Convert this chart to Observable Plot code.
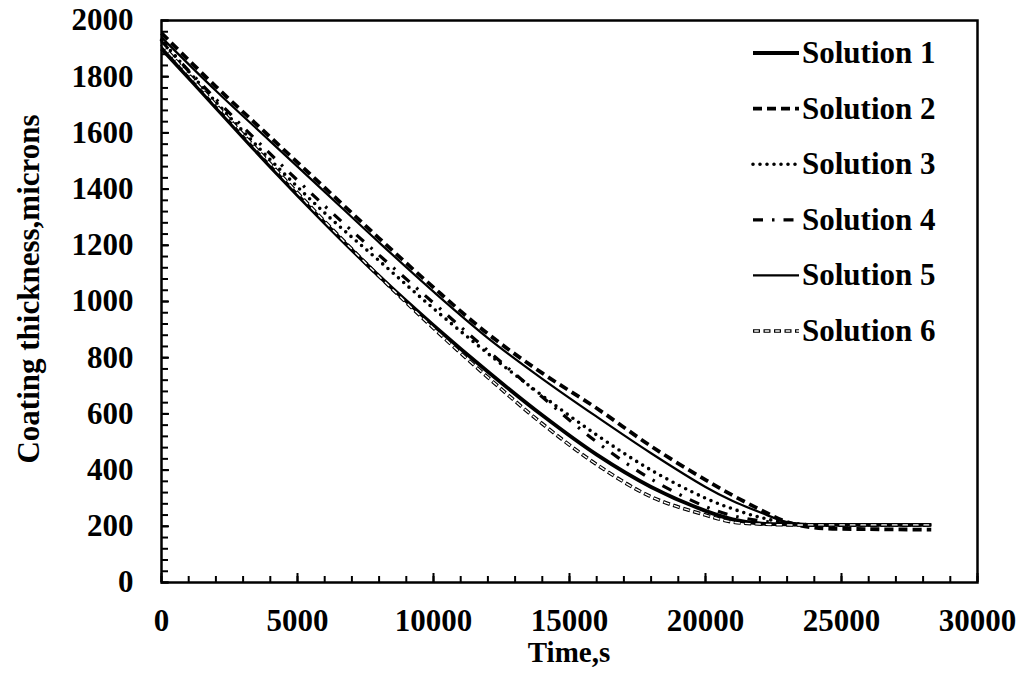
<!DOCTYPE html>
<html><head><meta charset="utf-8">
<script src="https://cdn.jsdelivr.net/npm/d3@7"></script>
<script src="https://cdn.jsdelivr.net/npm/@observablehq/plot@0.6"></script>
<style>body{margin:0;background:#fff;}</style>
</head><body><div id="chart"></div>
<script>
// Time (s)
const time = [0, 2000, 4000, 6000, 8000, 10000, 12000, 14000, 16000, 18000, 20000, 21000, 22000, 23000, 24000, 26000, 28300];
// Coating thickness (microns)
const sol1 = [1900, 1690, 1480, 1280, 1090, 915, 750, 595, 455, 340, 255, 225, 210, 207, 205, 205, 205];
const sol2 = [1955, 1765, 1585, 1405, 1225, 1050, 885, 745, 620, 485, 365, 310, 260, 215, 195, 190, 188];
const sol3 = [1930, 1710, 1505, 1315, 1145, 975, 815, 665, 525, 400, 300, 262, 232, 212, 205, 205, 205];
const sol4 = [1925, 1720, 1525, 1340, 1165, 995, 825, 660, 500, 368, 270, 238, 220, 210, 205, 205, 205];
const sol5 = [1940, 1750, 1570, 1390, 1210, 1035, 870, 725, 590, 460, 340, 290, 250, 215, 207, 205, 205];
const sol6 = [1915, 1700, 1490, 1285, 1090, 905, 730, 565, 420, 305, 240, 215, 208, 205, 205, 205, 205];
const seriesNames = ["Solution 1", "Solution 2", "Solution 3", "Solution 4", "Solution 5", "Solution 6"];
const seriesValues = [sol1, sol2, sol3, sol4, sol5, sol6];
const xTicks = [0, 5000, 10000, 15000, 20000, 25000, 30000];
const yTicks = [0, 200, 400, 600, 800, 1000, 1200, 1400, 1600, 1800, 2000];
const xMinor = d3.range(0, 30001, 1000);
const yMinor = d3.range(0, 2001, 40);
const xTitle = "Time,s";
const yTitle = "Coating thickness,microns";

const W = 1021, H = 675, mL = 161, mR = 44, mT = 20, mB = 93;
const plotW = W - mL - mR, plotH = H - mT - mB;
const FONT = "'Liberation Serif', 'Times New Roman', serif";

const lineStyles = [
  {strokeWidth: 3.8},
  {strokeWidth: 3.8, strokeDasharray: "9,5"},
  {strokeWidth: 3.6, strokeDasharray: "0,7", strokeLinecap: "round"},
  {strokeWidth: 3.2, strokeDasharray: "10,9,2.5,9"},
  {strokeWidth: 2.2},
  {strokeWidth: 3.6, strokeDasharray: "7,3.5", hollow: true}
];

const rows = (vals, name) => time.map((t, i) => ({t, v: vals[i], name}));

const lineMarks = [];
seriesValues.forEach((vals, k) => {
  const st = lineStyles[k];
  const data = rows(vals, seriesNames[k]);
  lineMarks.push(Plot.line(data, {x: "t", y: "v", stroke: "black", curve: "catmull-rom",
    strokeWidth: st.strokeWidth, strokeDasharray: st.strokeDasharray, strokeLinecap: st.strokeLinecap || "butt"}));
  if (st.hollow) {
    lineMarks.push(Plot.line(data, {x: "t", y: "v", stroke: "white", curve: "catmull-rom",
      strokeWidth: 1.4, strokeDasharray: "4.5,6", strokeDashoffset: -1.25}));
  }
});

const plot = Plot.plot({
  width: W, height: H,
  marginLeft: mL, marginRight: mR, marginTop: mT, marginBottom: mB,
  x: {domain: [0, 30000]},
  y: {domain: [0, 2000]},
  style: {fontFamily: FONT, fontWeight: "bold", fontSize: "31px", background: "white", color: "black", overflow: "visible"},
  marks: [
    ...lineMarks,
    Plot.ruleX(xMinor, {x: d => d, insetTop: plotH - 6, stroke: "black", strokeWidth: 2}),
    Plot.ruleX(xTicks, {x: d => d, insetTop: plotH - 9, stroke: "black", strokeWidth: 2}),
    Plot.ruleY(yMinor, {y: d => d, insetRight: plotW - 7, stroke: "black", strokeWidth: 2}),
    Plot.ruleY(yTicks, {y: d => d, insetRight: plotW - 8, stroke: "black", strokeWidth: 2}),
    Plot.frame({stroke: "black", strokeWidth: 2.5}),
    Plot.axisX(xTicks, {tickSize: 0, tickPadding: 26, tickFormat: d => String(d), label: null, fontSize: 31, fontWeight: "bold"}),
    Plot.axisY(yTicks, {tickSize: 0, tickPadding: 28, tickFormat: d => String(d), label: null, fontSize: 31, fontWeight: "bold"})
  ]
});

const svg = d3.select(plot);
// Axis titles
svg.append("text").attr("x", mL + plotW / 2).attr("y", 652).attr("dy", "0.35em")
  .attr("text-anchor", "middle").attr("font-size", 29).attr("font-weight", "bold")
  .attr("font-family", FONT).attr("fill", "black").text(xTitle);
svg.append("text").attr("transform", "translate(28,289) rotate(-90)").attr("dy", "0.35em")
  .attr("text-anchor", "middle").attr("font-size", 31).attr("font-weight", "bold")
  .attr("font-family", FONT).attr("fill", "black").text(yTitle);

// Legend
const lg = svg.append("g");
seriesNames.forEach((name, k) => {
  const st = lineStyles[k];
  const yb = 63 + 55.6 * k;
  const yc = yb - 10;
  lg.append("line").attr("x1", 753).attr("x2", 799).attr("y1", yc).attr("y2", yc)
    .attr("stroke", "black").attr("stroke-width", st.strokeWidth)
    .attr("stroke-dasharray", st.strokeDasharray || null)
    .attr("stroke-linecap", st.strokeLinecap || "butt");
  if (st.hollow) {
    lg.append("line").attr("x1", 753).attr("x2", 799).attr("y1", yc).attr("y2", yc)
      .attr("stroke", "white").attr("stroke-width", 1.4)
      .attr("stroke-dasharray", "4.5,6").attr("stroke-dashoffset", -1.25);
  }
  lg.append("text").attr("x", 802).attr("y", yb).attr("text-anchor", "start").text(name)
    .attr("font-size", 31).attr("font-weight", "bold").attr("font-family", FONT).attr("fill", "black");
});

document.getElementById("chart").appendChild(plot);
</script>
</body></html>
